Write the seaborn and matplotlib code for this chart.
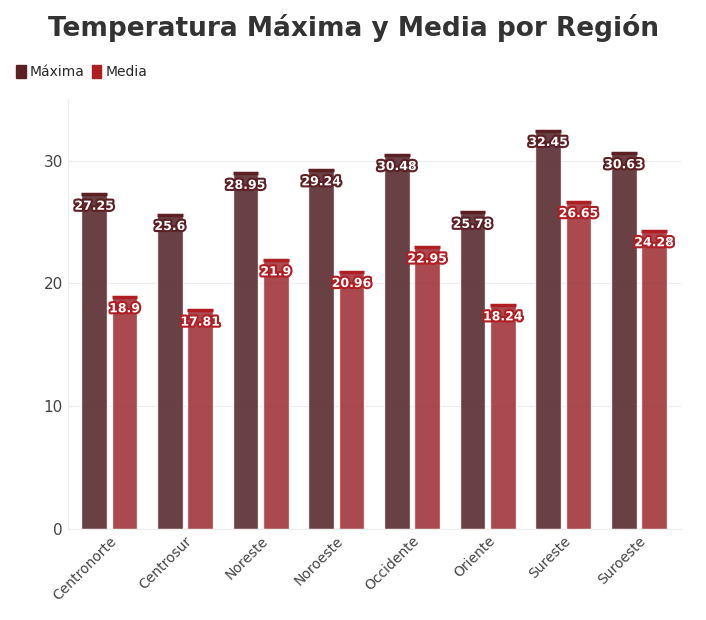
import numpy as np
import pandas as pd
import matplotlib
matplotlib.use('Agg')
import matplotlib.pyplot as plt
import matplotlib.patheffects as pe
import seaborn as sns

regiones = ['Centronorte', 'Centrosur', 'Noreste', 'Noroeste', 'Occidente',
            'Oriente', 'Sureste', 'Suroeste']
maxima = [27.25, 25.6, 28.95, 29.24, 30.48, 25.78, 32.45, 30.63]
media = [18.9, 17.81, 21.9, 20.96, 22.95, 18.24, 26.65, 24.28]
series = ['Máxima', 'Media']
colores = {'Máxima': '#5c1f24', 'Media': '#b01e24'}

df = pd.DataFrame({'Región': regiones * 2,
                   'Serie': [series[0]] * 8 + [series[1]] * 8,
                   'Valor': maxima + media})

plt.rcParams['font.family'] = 'Lato'
sns.set_style('whitegrid')
fig = plt.figure(figsize=(7.06, 6.2), dpi=100)
ax = fig.add_axes([0.096, 0.147, 0.868, 0.693])

sns.barplot(data=df, x='Región', y='Valor', hue='Serie', palette=colores,
            width=0.8, gap=0.15, alpha=0.88, ax=ax, legend=False)

for cont, s in zip(ax.containers, series):
    for rect, v in zip(cont, df[df['Serie'] == s]['Valor']):
        x0, w = rect.get_x(), rect.get_width()
        ax.plot([x0, x0 + w], [v, v], color=colores[s], lw=2.5, solid_capstyle='butt')
        ax.text(x0 + w / 2, v - 1.5, f'{v:g}', ha='center', va='bottom',
                color='white', fontsize=9, fontweight='bold',
                path_effects=[pe.withStroke(linewidth=3, foreground=colores[s])])

ax.set_ylim(0, 35)
ax.set_xlim(-0.55, 7.55)
ax.set_yticks([0, 10, 20, 30])
ax.tick_params(axis='y', labelsize=11, colors='#444444', length=0)
ax.tick_params(axis='x', labelsize=10, colors='#444444', length=0)
plt.setp(ax.get_xticklabels(), rotation=45, ha='right', rotation_mode='anchor')
ax.set_xlabel('')
ax.set_ylabel('')
ax.grid(axis='x', visible=False)
ax.grid(axis='y', color='#eeeeee')
for sp in ['top', 'right']:
    ax.spines[sp].set_visible(False)
ax.spines['left'].set_color('#eeeeee')
ax.spines['bottom'].set_color('#eeeeee')

fig.text(0.5, 0.955, 'Temperatura Máxima y Media por Región', ha='center',
         va='center', fontsize=19, fontweight='bold', color='#333333')
handles = [matplotlib.patches.FancyBboxPatch((0, 0), 1, 1, color=colores[s]) for s in series]
fig.legend(handles, series, loc='upper left', bbox_to_anchor=(0.005, 0.915),
           ncol=2, frameon=False, fontsize=10, handlelength=0.7, handleheight=1.0,
           handletextpad=0.3, columnspacing=0.5)

fig.savefig('out.png', dpi=100)
